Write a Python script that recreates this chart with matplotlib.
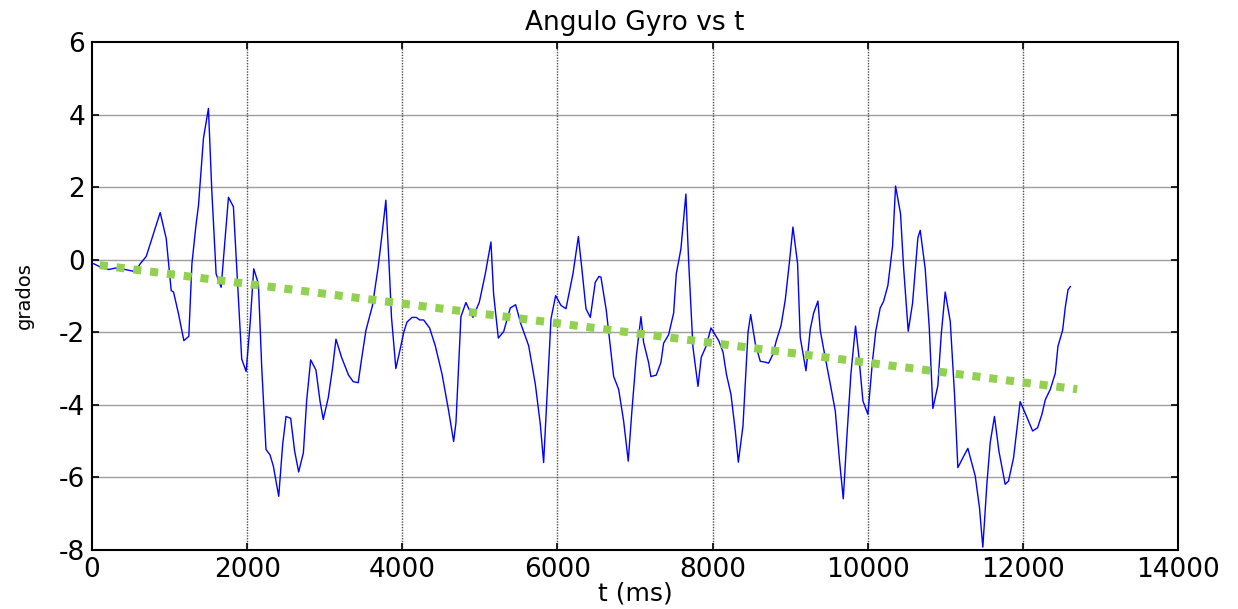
import matplotlib
matplotlib.use("Agg")
import matplotlib.pyplot as plt

# angulo del giroscopio (grados) frente al tiempo (ms)
t = [0, 21, 107, 215, 301, 429, 493, 558, 622, 699, 793, 879, 957, 1021, 1051,
     1115, 1184, 1248, 1288, 1343, 1373, 1437, 1501, 1544, 1600, 1665, 1759, 1823,
     1930, 1987, 2038, 2085, 2145, 2188, 2243, 2295, 2338, 2407, 2458, 2501, 2561,
     2612, 2664, 2725, 2767, 2819, 2887, 2939, 2981, 3046, 3102, 3145, 3217, 3307,
     3367, 3432, 3475, 3531, 3616, 3689, 3745, 3788, 3831, 3861, 3917, 3968, 4019,
     4060, 4125, 4181, 4224, 4275, 4352, 4425, 4512, 4598, 4662, 4692, 4756, 4820,
     4911, 4993, 5070, 5143, 5177, 5238, 5307, 5392, 5461, 5529, 5629, 5715, 5779,
     5822, 5865, 5917, 5977, 6046, 6110, 6200, 6270, 6317, 6368, 6424, 6488, 6535,
     6561, 6630, 6725, 6789, 6853, 6913, 6960, 7017, 7077, 7111, 7175, 7205, 7274,
     7334, 7369, 7433, 7498, 7532, 7592, 7656, 7691, 7747, 7812, 7854, 7919, 7979,
     8014, 8079, 8135, 8178, 8237, 8293, 8332, 8392, 8457, 8491, 8551, 8615, 8671,
     8723, 8779, 8822, 8882, 8937, 8993, 9036, 9096, 9130, 9204, 9260, 9303, 9358,
     9388, 9452, 9518, 9582, 9637, 9685, 9732, 9783, 9843, 9883, 9938, 10002, 10062,
     10105, 10161, 10204, 10260, 10320, 10359, 10423, 10462, 10522, 10578, 10647,
     10677, 10741, 10793, 10840, 10904, 10948, 10999, 11064, 11119, 11162, 11226,
     11291, 11386, 11441, 11484, 11536, 11579, 11634, 11691, 11772, 11815, 11880,
     11965, 12044, 12126, 12190, 12246, 12289, 12354, 12418, 12452, 12513, 12547,
     12582, 12612]
angulo = [-0.10, -0.11, -0.20, -0.27, -0.23, -0.27, -0.30, -0.33, -0.11, 0.09, 0.72,
          1.30, 0.58, -0.85, -0.89, -1.49, -2.23, -2.11, -0.11, 1.00, 1.50, 3.35, 4.17,
          1.92, -0.39, -0.76, 1.72, 1.46, -2.74, -3.08, -1.77, -0.25, -0.66, -2.97,
          -5.23, -5.38, -5.69, -6.52, -5.09, -4.32, -4.37, -5.27, -5.85, -5.32, -3.89,
          -2.76, -3.04, -3.89, -4.40, -3.80, -2.97, -2.19, -2.69, -3.18, -3.36, -3.39,
          -2.74, -1.95, -1.26, -0.20, 0.81, 1.64, -0.20, -1.59, -3.00, -2.51, -2.00,
          -1.72, -1.59, -1.59, -1.66, -1.66, -1.88, -2.37, -3.15, -4.17, -5.01, -4.49,
          -1.57, -1.18, -1.59, -1.17, -0.39, 0.49, -0.94, -2.16, -1.98, -1.33, -1.24,
          -1.77, -2.37, -3.43, -4.53, -5.59, -3.80, -1.63, -0.99, -1.26, -1.35, -0.39,
          0.64, -0.29, -1.35, -1.59, -0.62, -0.46, -0.48, -1.40, -3.22, -3.57, -4.44,
          -5.55, -4.17, -2.65, -1.57, -2.28, -2.83, -3.22, -3.18, -2.83, -2.30, -2.07,
          -1.47, -0.39, 0.30, 1.81, -0.02, -2.41, -3.49, -2.69, -2.37, -1.88,
          -2.00, -2.23, -2.55, -3.15, -3.71, -4.72, -5.58, -4.58, -2.00, -1.51, -2.32,
          -2.80, -2.82, -2.85, -2.60, -2.23, -1.82, -1.11, -0.02, 0.90, -0.11, -2.14,
          -3.06, -1.91, -1.47, -1.14, -1.95, -2.69, -3.43, -4.17, -5.55, -6.59, -4.86,
          -3.15, -1.83, -2.60, -3.89, -4.26, -2.78, -1.95, -1.33, -1.15, -0.71, 0.37,
          2.03, 1.27, -0.20, -1.97, -1.20, 0.61, 0.81, -0.25, -1.86, -4.10, -3.47,
          -2.05, -0.89, -1.70, -3.71, -5.73, -5.46, -5.20, -5.96, -6.84, -7.92, -6.19,
          -5.04, -4.32, -5.27, -6.19, -6.10, -5.46, -3.91, -4.30, -4.72, -4.63, -4.26,
          -3.86, -3.57, -3.13, -2.39, -1.94, -1.31, -0.83, -0.74]

# recta de tendencia
t_tend = [100, 12700]
ang_tend = [-0.15, -3.57]

xticks = [0, 2000, 4000, 6000, 8000, 10000, 12000, 14000]
yticks = [-8, -6, -4, -2, 0, 2, 4, 6]

plt.rcParams['font.family'] = ['DejaVu Sans']
plt.rcParams['axes.unicode_minus'] = False

fig = plt.figure(figsize=(12.38, 6.09), dpi=100)
ax = fig.add_axes([92/1238, 1-550/609, (1178-92)/1238, (550-42)/609])

ax.plot(t, angulo, color=(0, 0, 1), lw=1.0, zorder=3)
ax.plot(t_tend, ang_tend, color='#92D050', lw=5.8, linestyle=(0, (1, 1.1)), zorder=4)

ax.set_xlim(0, 14000)
ax.set_ylim(-8, 6)
ax.set_xticks(xticks)
ax.set_yticks(yticks)

for y in yticks[1:-1]:
    ax.axhline(y, color='0.62', lw=1.0, zorder=1)
for x in xticks[1:-1]:
    ax.axvline(x, color='0.3', lw=1.0, linestyle=(0, (1, 1)), zorder=1)

ax.tick_params(direction='in', length=5, width=1.2, top=True, right=True,
               labelsize=19, pad=5)
for s in ax.spines.values():
    s.set_linewidth(1.5)

ax.set_title('Angulo Gyro vs t', fontsize=19, pad=9)
ax.set_xlabel('t (ms)', fontsize=18, labelpad=-1)
ax.set_ylabel('grados', fontsize=14, labelpad=18)

fig.savefig('out.png', dpi=100)
